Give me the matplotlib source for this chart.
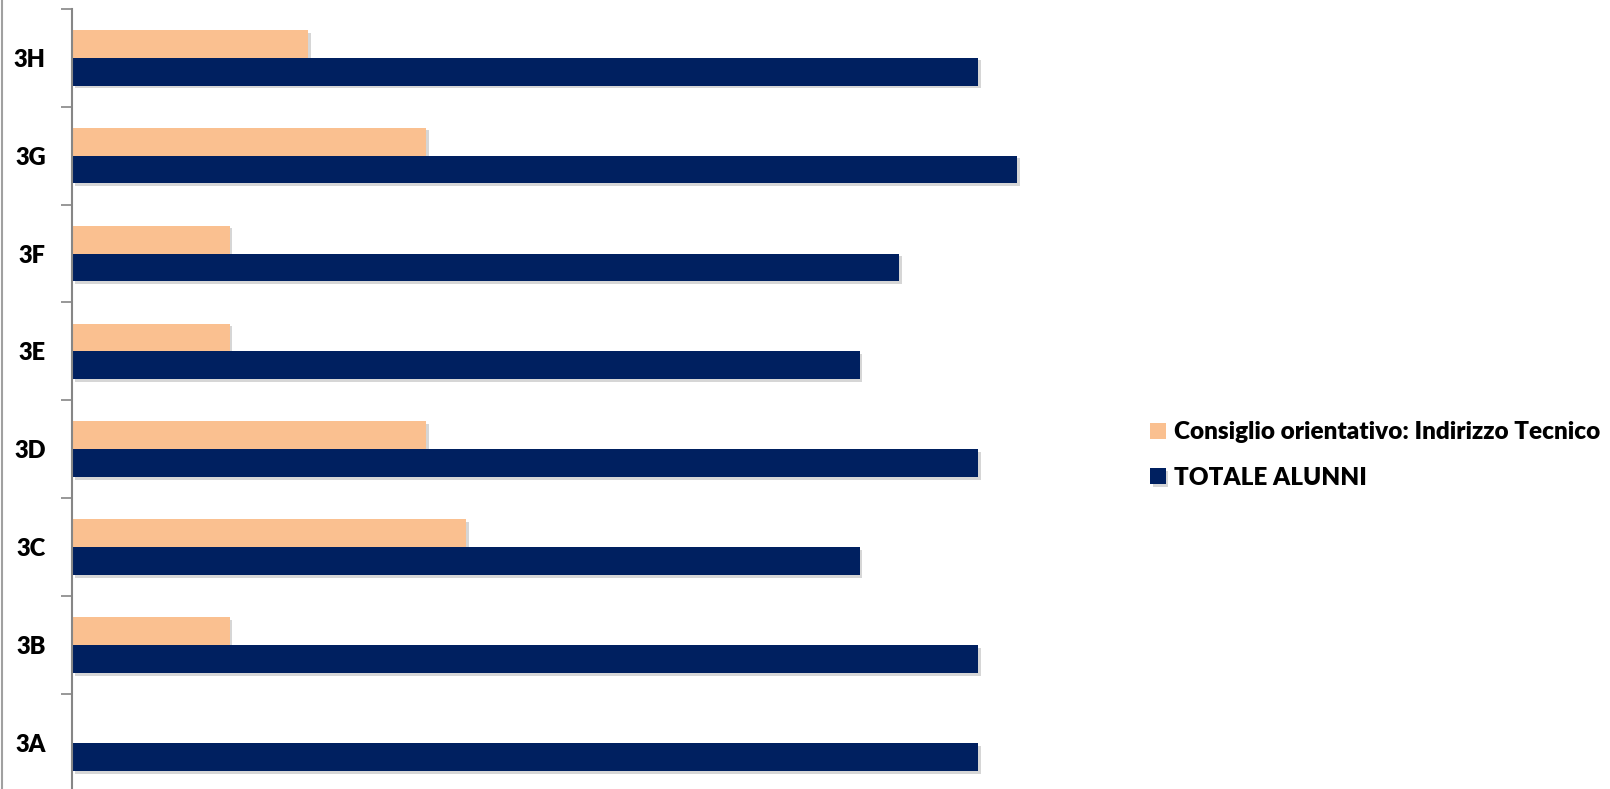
import matplotlib
matplotlib.use('Agg')
from matplotlib import pyplot as plt
from matplotlib import patheffects as pe
import numpy as np

plt.rcParams['font.family'] = ['Lato', 'DejaVu Sans']

classi = ['3A', '3B', '3C', '3D', '3E', '3F', '3G', '3H']
tecnico = [0, 4, 10, 9, 4, 4, 9, 6]
totale = [23, 23, 20, 23, 20, 21, 24, 23]

col_tecnico = '#FAC090'
col_totale = '#002060'

fig = plt.figure(figsize=(16.1, 7.89), dpi=100)
ax = fig.add_axes([72 / 1610, -0.004, (1096 - 72) / 1610, 0.993])

y = np.arange(len(classi))
h = 0.285
shadow = [pe.SimplePatchShadow(offset=(2, -2), shadow_rgbFace='#999999', alpha=0.4), pe.Normal()]

b1 = ax.barh(y + h / 2, tecnico, height=h, color=col_tecnico,
             label='Consiglio orientativo: Indirizzo Tecnico')
b2 = ax.barh(y - h / 2, totale, height=h, color=col_totale, label='TOTALE ALUNNI')
for b in list(b1) + list(b2):
    if b.get_width() > 0:
        b.set_path_effects(shadow)

ax.set_xlim(0, 26)
ax.set_ylim(-0.5, len(classi) - 0.5)
ax.set_yticks(y)
ax.set_yticklabels(classi, fontsize=17, fontweight='heavy')
ax.set_yticks(np.arange(-0.5, len(classi)), minor=True)
ax.tick_params(axis='y', which='major', length=0, pad=19)
ax.tick_params(axis='y', which='minor', length=8, width=1.2, color='#868686')
ax.set_xticks([])
for s in ['top', 'right', 'bottom']:
    ax.spines[s].set_visible(False)
ax.spines['left'].set_color('#868686')
ax.spines['left'].set_linewidth(1.5)

fig.add_artist(plt.Line2D([1.5 / 1610, 1.5 / 1610], [0, 1], transform=fig.transFigure,
                          color='#A0A0A0', lw=1.5))

fig.legend(handles=[b1, b2], loc='center left', bbox_to_anchor=(1128 / 1610, 1 - 455 / 789),
           frameon=False, prop={'size': 17.5, 'weight': 'heavy'},
           handlelength=0.65, handleheight=0.65, handletextpad=0.35, labelspacing=0.95)

plt.savefig('out.png', dpi=100)
